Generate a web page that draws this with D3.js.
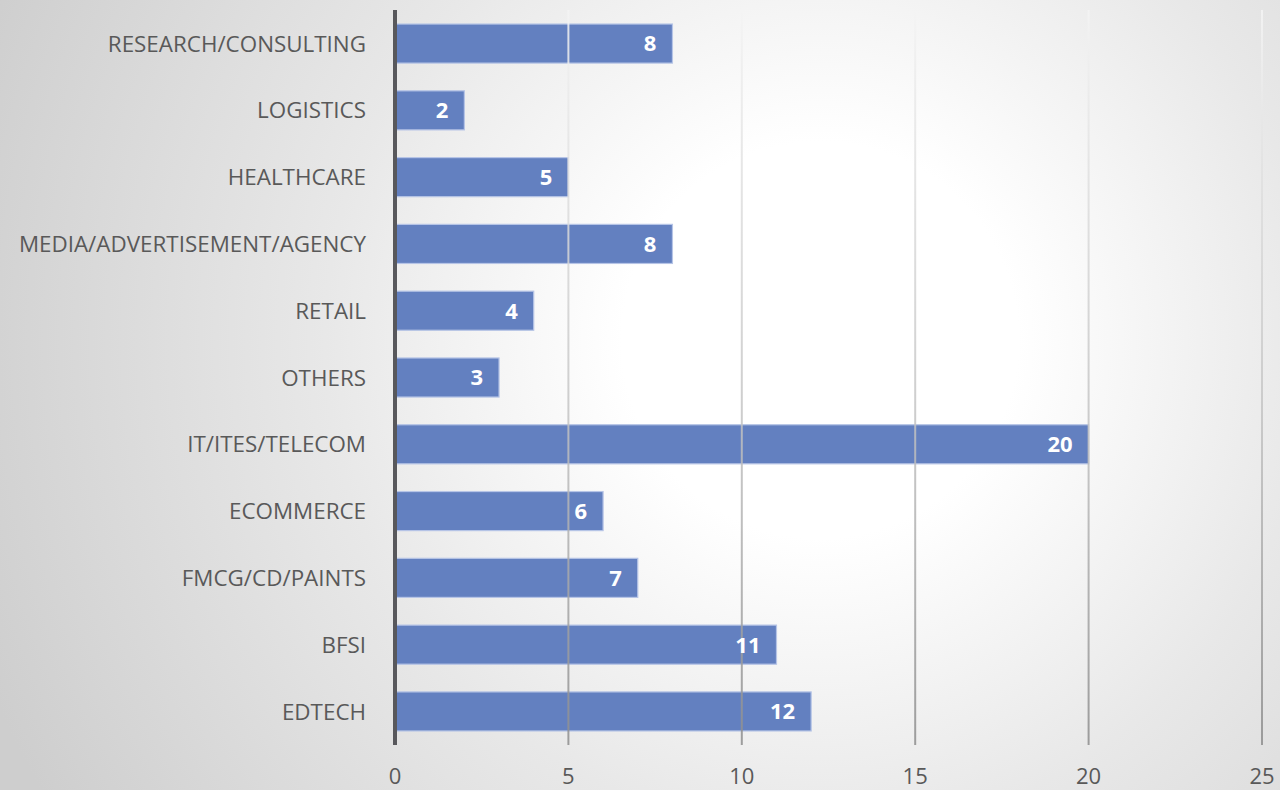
<!DOCTYPE html>
<html lang="en">
<head>
	<meta charset="UTF-8">
	<script src="https://cdnjs.cloudflare.com/ajax/libs/d3/7.8.5/d3.min.js"></script>
	<title>sectors</title>
	<style>
        body { margin: 0; }
        .cat text { font-family: "Open Sans", sans-serif; font-size: 22.4px; fill: #595959; }
        .ticks text { font-family: "Open Sans", sans-serif; font-size: 22px; fill: #595959; }
        .vals text { font-family: "Open Sans", sans-serif; font-size: 22px; font-weight: bold; fill: #ffffff; }
	</style>
</head>
<body>
<svg id="chart" width="1280" height="790"></svg>
<script>
	// data, top to bottom
	const categories = ["RESEARCH/CONSULTING", "LOGISTICS", "HEALTHCARE", "MEDIA/ADVERTISEMENT/AGENCY",
		"RETAIL", "OTHERS", "IT/ITES/TELECOM", "ECOMMERCE", "FMCG/CD/PAINTS", "BFSI", "EDTECH"];
	const counts = [8, 2, 5, 8, 4, 3, 20, 6, 7, 11, 12];
	const tickValues = [0, 5, 10, 15, 20, 25];

	const svg = d3.select("#chart");
	const width = +svg.attr("width"), height = +svg.attr("height");

	const defs = svg.append("defs");
	const bg = defs.append("radialGradient")
		.attr("id", "bg")
		.attr("gradientUnits", "userSpaceOnUse")
		.attr("cx", 820).attr("cy", 340).attr("r", 900);
	bg.append("stop").attr("offset", "0%").attr("stop-color", "#ffffff");
	bg.append("stop").attr("offset", "22%").attr("stop-color", "#ffffff");
	bg.append("stop").attr("offset", "55%").attr("stop-color", "#e8e8e8");
	bg.append("stop").attr("offset", "100%").attr("stop-color", "#cecece");

	const grid = defs.append("linearGradient")
		.attr("id", "gridGrad")
		.attr("gradientUnits", "userSpaceOnUse")
		.attr("x1", 0).attr("y1", 10).attr("x2", 0).attr("y2", 745);
	grid.append("stop").attr("offset", "0%").attr("stop-color", "#f4f4f4");
	grid.append("stop").attr("offset", "55%").attr("stop-color", "#c4c4c4");
	grid.append("stop").attr("offset", "100%").attr("stop-color", "#8e8e8e");

	svg.append("rect")
		.attr("width", width).attr("height", height)
		.attr("fill", "url(#bg)");

	const x = d3.scaleLinear().domain([0, 25]).range([395, 1262]);
	const y = d3.scaleBand().domain(categories).range([10, 745])
		.paddingInner(0.415).paddingOuter(0.21);

	// bars
	svg.append("g")
		.selectAll("rect")
		.data(counts)
		.join("rect")
		.attr("x", x(0))
		.attr("y", (d, i) => y(categories[i]))
		.attr("width", d => x(d) - x(0))
		.attr("height", y.bandwidth())
		.attr("fill", "#6380c0")
		.attr("stroke", "#b6c4e6")
		.attr("stroke-width", 1.2);

	// grid lines on top, faint
	svg.append("g")
		.selectAll("line")
		.data(tickValues.slice(1))
		.join("line")
		.attr("x1", d => x(d)).attr("x2", d => x(d))
		.attr("y1", 10).attr("y2", 745)
		.attr("stroke", "url(#gridGrad)")
		.attr("stroke-width", 2)
		.attr("stroke-opacity", 0.85);

	// value axis labels
	svg.append("g")
		.attr("class", "ticks")
		.selectAll("text")
		.data(tickValues)
		.join("text")
		.attr("x", d => x(d))
		.attr("y", 784)
		.attr("text-anchor", "middle")
		.text(d => d);

	// category axis line
	svg.append("line")
		.attr("x1", x(0)).attr("x2", x(0))
		.attr("y1", 10).attr("y2", 745)
		.attr("stroke", "#58585c")
		.attr("stroke-width", 4);

	// category labels
	svg.append("g")
		.attr("class", "cat")
		.selectAll("text")
		.data(categories)
		.join("text")
		.attr("x", 366)
		.attr("y", d => y(d) + y.bandwidth() / 2)
		.attr("dy", "0.36em")
		.attr("text-anchor", "end")
		.text(d => d);

	// data labels inside bar ends
	svg.append("g")
		.attr("class", "vals")
		.selectAll("text")
		.data(counts)
		.join("text")
		.attr("x", d => x(d) - 16)
		.attr("y", (d, i) => y(categories[i]) + y.bandwidth() / 2)
		.attr("dy", "0.36em")
		.attr("text-anchor", "end")
		.text(d => d);
</script>
</body>
</html>
